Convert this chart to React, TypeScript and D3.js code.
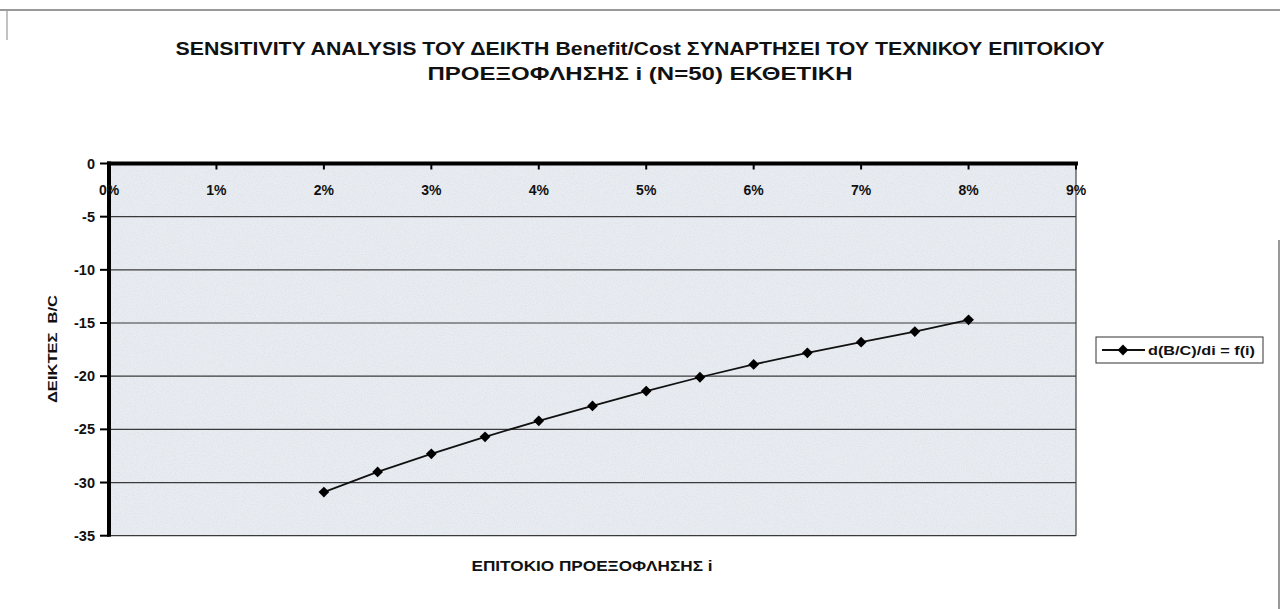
import React from "react";
import * as d3 from "d3";

const rates = [2, 2.5, 3, 3.5, 4, 4.5, 5, 5.5, 6, 6.5, 7, 7.5, 8];
const values = [-30.9, -29.0, -27.3, -25.7, -24.2, -22.8, -21.4, -20.1, -18.9, -17.8, -16.8, -15.8, -14.7];
const xTicks = [0, 1, 2, 3, 4, 5, 6, 7, 8, 9];
const yTicks = [0, -5, -10, -15, -20, -25, -30, -35];
const titleLines = [
  "SENSITIVITY ANALYSIS ΤΟΥ ΔΕΙΚΤΗ Benefit/Cost ΣΥΝΑΡΤΗΣΕΙ ΤΟΥ ΤΕΧΝΙΚΟΥ ΕΠΙΤΟΚΙΟΥ",
  "ΠΡΟΕΞΟΦΛΗΣΗΣ i (N=50) ΕΚΘΕΤΙΚΗ",
];
const titleWidths = [929, 425];
const xTitle = "ΕΠΙΤΟΚΙΟ ΠΡΟΕΞΟΦΛΗΣΗΣ i";
const yTitle = "ΔΕΙΚΤΕΣ  B/C";
const seriesName = "d(B/C)/di = f(i)";

const FONT = "'Liberation Sans', Arial, sans-serif";

export default function App() {
  const x = d3.scaleLinear().domain([0, 9]).range([109, 1076]);
  const y = d3.scaleLinear().domain([0, -35]).range([163.5, 535.7]);
  const pts = rates.map((r, i) => [x(r), y(values[i])] as [number, number]);
  const line = d3.line()(pts) || "";
  const sym = d3.symbol().type(d3.symbolSquare).size(58)() || "";

  return (
    <svg
      width={1280}
      height={609}
      style={{ position: "absolute", left: 0, top: 0, background: "#fff" }}
      fontFamily={FONT}
    >
      <defs>
        <filter id="grain" x="0" y="0" width="100%" height="100%">
          <feTurbulence type="fractalNoise" baseFrequency="0.9" numOctaves={2} seed={3} result="n" />
          <feColorMatrix
            in="n"
            type="matrix"
            values="0 0 0 0 0.55  0 0 0 0 0.6  0 0 0 0 0.68  0 0 0 1.2 -0.45"
          />
        </filter>
      </defs>
      <rect x={0} y={0} width={1280} height={609} fill="#fff" />
      {/* outer chart frame */}
      <line x1={0} x2={1280} y1={10} y2={10} stroke="#777" strokeWidth={1.5} />
      <line x1={7} x2={7} y1={10} y2={40} stroke="#999" strokeWidth={1.2} />
      <line x1={1279} x2={1279} y1={240} y2={609} stroke="#555" strokeWidth={1.2} />

      {/* title */}
      {titleLines.map((t, i) => (
        <text
          key={i}
          x={640}
          y={55 + i * 25}
          textAnchor="middle"
          fontWeight="bold"
          fontSize={18}
          fill="#111"
          textLength={titleWidths[i]}
          lengthAdjust="spacingAndGlyphs"
        >
          {t}
        </text>
      ))}

      {/* plot area */}
      <rect
        x={x(0)}
        y={y(0)}
        width={x(9) - x(0)}
        height={y(-35) - y(0)}
        fill="#e9edf2"
      />
      <rect
        x={x(0)}
        y={y(0)}
        width={x(9) - x(0)}
        height={y(-35) - y(0)}
        filter="url(#grain)"
        opacity={0.5}
      />
      {yTicks.filter((v) => v !== 0).map((v) => (
        <line key={v} x1={x(0)} x2={x(9)} y1={y(v)} y2={y(v)} stroke="#3a3a3a" strokeWidth={1.2} />
      ))}
      <line x1={x(9)} x2={x(9)} y1={y(0)} y2={y(-35)} stroke="#444" strokeWidth={1.2} />

      {/* axes */}
      <line x1={x(0) - 2} x2={x(9) + 2} y1={y(0)} y2={y(0)} stroke="#000" strokeWidth={4} />
      <line x1={x(0)} x2={x(0)} y1={y(0) - 2} y2={y(-35) + 1} stroke="#000" strokeWidth={4} />
      {yTicks.map((v) => (
        <g key={v}>
          <line x1={x(0) - 9} x2={x(0)} y1={y(v)} y2={y(v)} stroke="#000" strokeWidth={2} />
          <text x={95} y={y(v) + 5} textAnchor="end" fontWeight="bold" fontSize={14.5} fill="#111">
            {v}
          </text>
        </g>
      ))}
      {xTicks.map((t) => (
        <g key={t}>
          <line x1={x(t)} x2={x(t)} y1={y(0)} y2={y(0) + 6} stroke="#000" strokeWidth={2} />
          <text x={x(t)} y={195} textAnchor="middle" fontWeight="bold" fontSize={14} fill="#111">
            {t + "%"}
          </text>
        </g>
      ))}

      {/* series */}
      <path d={line} fill="none" stroke="#111" strokeWidth={1.8} />
      {pts.map((p, i) => (
        <path key={i} d={sym} transform={`translate(${p[0]},${p[1]}) rotate(45)`} fill="#000" />
      ))}

      {/* axis titles */}
      <text
        x={592}
        y={571}
        textAnchor="middle"
        fontWeight="bold"
        fontSize={14}
        fill="#111"
        textLength={241}
        lengthAdjust="spacingAndGlyphs"
      >
        {xTitle}
      </text>
      <text
        transform="translate(57,349) rotate(-90)"
        textAnchor="middle"
        fontWeight="bold"
        fontSize={13.5}
        fill="#111"
        textLength={108}
        lengthAdjust="spacingAndGlyphs"
        style={{ whiteSpace: "pre" }}
      >
        {yTitle}
      </text>

      {/* legend */}
      <rect x={1096} y={337} width={167} height={26} fill="#fff" stroke="#333" strokeWidth={1} />
      <line x1={1102} x2={1145} y1={350} y2={350} stroke="#111" strokeWidth={1.8} />
      <path d={sym} transform="translate(1123,350) rotate(45)" fill="#000" />
      <text
        x={1148}
        y={355}
        fontWeight="bold"
        fontSize={13.5}
        fill="#111"
        textLength={107}
        lengthAdjust="spacingAndGlyphs"
      >
        {seriesName}
      </text>
    </svg>
  );
}
